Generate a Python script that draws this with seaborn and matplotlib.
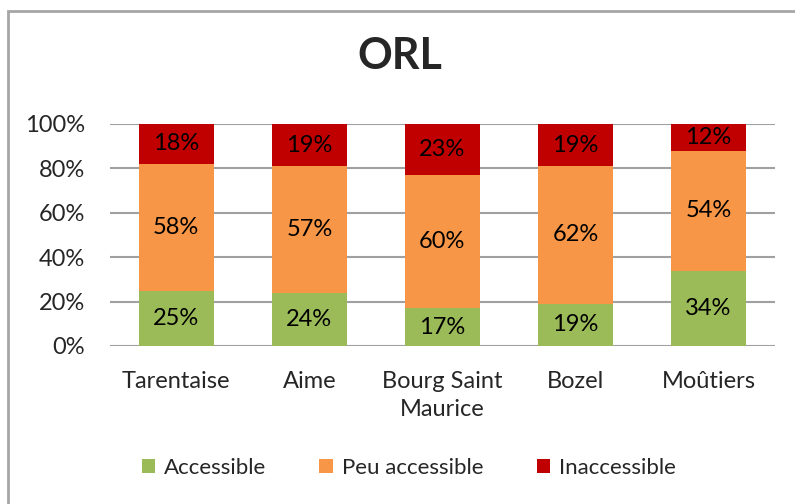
import pandas as pd
import seaborn as sns
import matplotlib.pyplot as plt
from matplotlib.patches import Rectangle, Patch

sites = ["Tarentaise", "Aime", "Bourg Saint\nMaurice", "Bozel", "Moûtiers"]
accessible = [25, 24, 17, 19, 34]
peu_accessible = [58, 57, 60, 62, 54]
inaccessible = [18, 19, 23, 19, 12]

series = ["Accessible", "Peu accessible", "Inaccessible"]
colors = ["#9BBB59", "#F79646", "#C00000"]

df = pd.DataFrame({"site": sites, "Accessible": accessible,
                   "Peu accessible": peu_accessible, "Inaccessible": inaccessible})
total = df[series].sum(axis=1)
shares = df[series].div(total, axis=0) * 100
cum = shares.cumsum(axis=1)

sns.set_style("white")
plt.rcParams["font.family"] = ["Lato", "DejaVu Sans"]

fig = plt.figure(figsize=(7.95, 5.04), dpi=100)
ax = fig.add_axes([0.138, 0.3135, 0.837, 0.4405])

# draw cumulative totals from the top down so each layer covers the next
for name, color in reversed(list(zip(series, colors))):
    sns.barplot(x=df["site"], y=cum[name], color=color, width=0.56,
                saturation=1, linewidth=0, order=sites, ax=ax, zorder=3)

for i in range(len(sites)):
    for name in series:
        mid = cum[name].iloc[i] - shares[name].iloc[i] / 2
        ax.text(i, mid, f"{df[name].iloc[i]}%", ha="center", va="center",
                fontsize=17, color="black", zorder=4)

ax.set_ylim(0, 100)
ax.set_yticks(range(0, 101, 20))
ax.set_yticklabels([f"{v}%" for v in range(0, 101, 20)])
ax.yaxis.grid(True, color="#A0A0A0", linewidth=1.5, zorder=0)
ax.set_axisbelow(True)
for s in ax.spines.values():
    s.set_visible(False)
ax.tick_params(axis="both", length=0, labelsize=17)
ax.tick_params(axis="y", pad=18)
ax.tick_params(axis="x", pad=18)
for lbl in ax.get_xticklabels():
    lbl.set_linespacing(1.4)
ax.set_xlabel("")
ax.set_ylabel("")

fig.text(0.503, 0.889, "ORL", ha="center", va="center",
         fontsize=31, fontweight="bold")

handles = [Patch(facecolor=c, edgecolor="none") for c in colors]
fig.legend(handles, series, loc="center", bbox_to_anchor=(0.514, 0.071),
           ncol=3, frameon=False, fontsize=16, handlelength=0.6,
           handleheight=0.6, handletextpad=0.4, columnspacing=2.4)

fig.patches.append(Rectangle((8 / 795, -0.1), 1.2, 1.078, transform=fig.transFigure,
                             fill=False, edgecolor="#A6A6A6", linewidth=2))

fig.savefig("out.png", dpi=100)
